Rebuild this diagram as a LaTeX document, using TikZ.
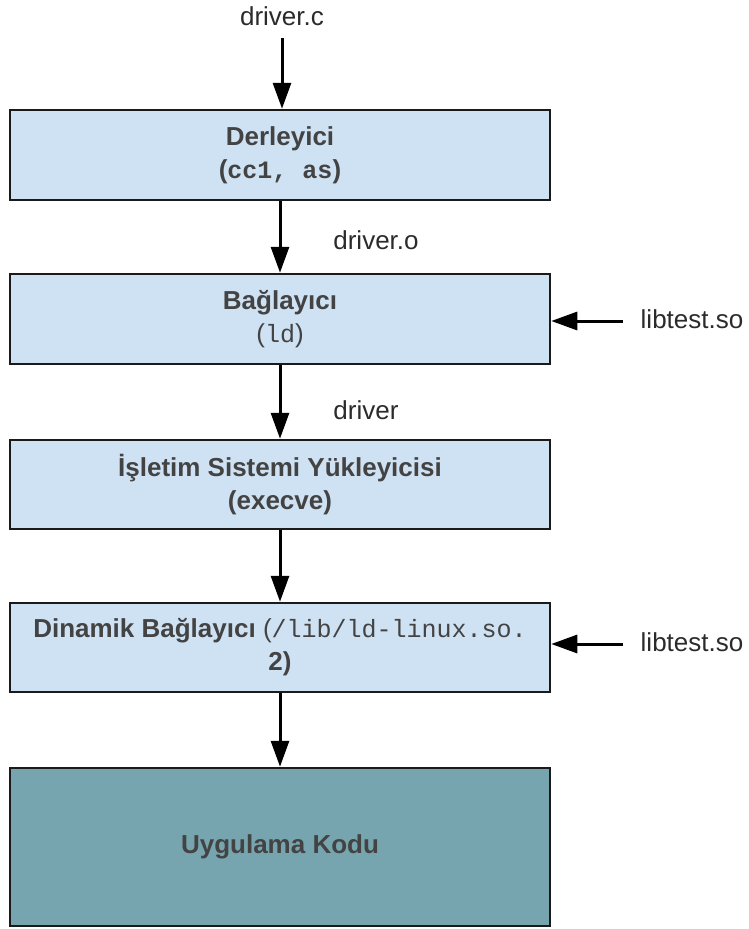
\documentclass[tikz,border=0pt]{standalone}
\usepackage{fontspec}
\setmainfont{Liberation Sans}
\setmonofont{Liberation Mono}
\usetikzlibrary{arrows.meta}

\definecolor{boxfill}{HTML}{CFE2F3}
\definecolor{codefill}{HTML}{76A5AF}
\definecolor{boxtext}{HTML}{434343}
\definecolor{labeltext}{HTML}{2B2B2B}
\definecolor{edge}{HTML}{1A1A1A}

\tikzset{
  stage/.style={draw=edge, line width=2.5pt, fill=boxfill, rectangle,
    minimum width=540pt, minimum height=90pt, inner sep=0pt, align=center,
    text=boxtext, font=\fontsize{26}{33}\selectfont\bfseries},
  flowlabel/.style={text=labeltext, inner sep=0pt,
    font=\fontsize{26}{30}\selectfont},
  flow/.style={draw=black, line width=3pt,
    -{Triangle[length=26pt,width=18pt]}},
}
\newcommand{\mcode}[1]{{\fontsize{25}{33}\selectfont\ttfamily #1}}

\begin{document}
\begin{tikzpicture}[x=1pt,y=-1pt]
  \useasboundingbox (0,0) rectangle (749,929);

  % processing stages
  \node[stage] (comp) at (280,155) {Derleyici\\(\mcode{cc1, as})};
  \node[stage] (link) at (280,319) {Bağlayıcı\\{\mdseries(\mcode{ld})}};
  \node[stage, minimum height=89pt] (load) at (280,484.5)
    {İşletim Sistemi Yükleyicisi\\(execve)};
  \node[stage, minimum height=89pt] (dyn) at (280,647.5)
    {Dinamik Bağlayıcı {\mdseries(\mcode{/lib/ld-linux.so.}}\\2)};
  \node[stage, fill=codefill, minimum height=158pt] (app) at (280,847)
    {Uygulama Kodu};

  % file labels
  \node[flowlabel] (src) at (282,16) {driver.c};
  \node[flowlabel] (obj) at (376,240) {driver.o};
  \node[flowlabel] (exe) at (366,410) {driver};
  \node[flowlabel] (lib1) at (692,319) {libtest.so};
  \node[flowlabel] (lib2) at (692,642) {libtest.so};

  % connectors
  \coordinate (srcend) at (282,38);
  \draw[flow] (srcend) -- (srcend |- comp.north);
  \draw[flow] (comp.south) -- (link.north);
  \draw[flow] (link.south) -- (load.north);
  \draw[flow] (load.south) -- (dyn.north);
  \draw[flow] (dyn.south) -- (app.north);

  \coordinate (lib1end) at (623,321);
  \coordinate (lib2end) at (623,644);
  \draw[flow] (lib1end) -- (lib1end -| link.east);
  \draw[flow] (lib2end) -- (lib2end -| dyn.east);
\end{tikzpicture}
\end{document}
